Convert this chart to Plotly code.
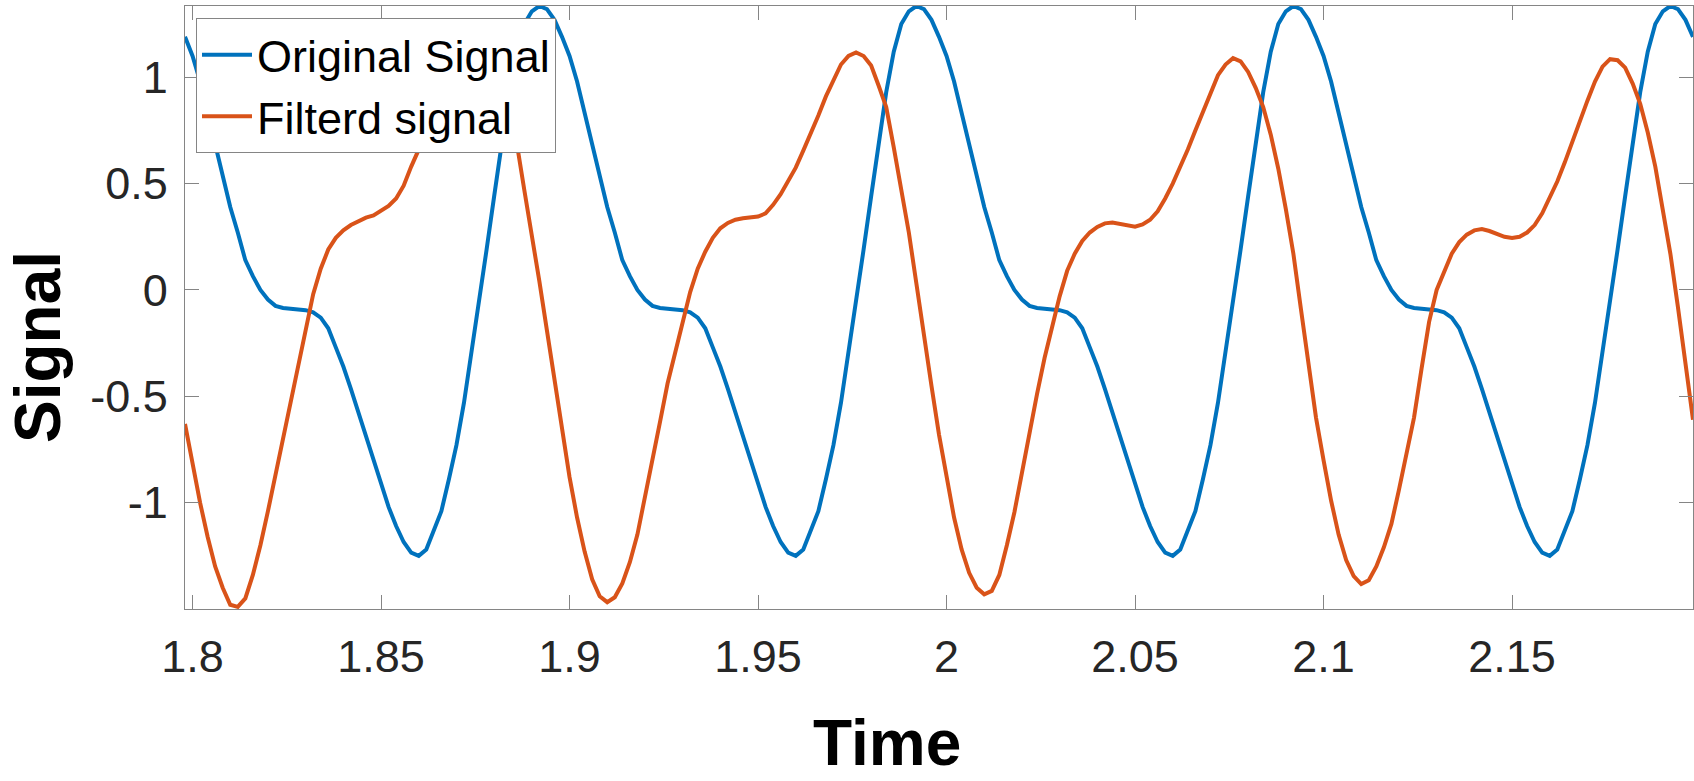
import plotly.graph_objects as go

# ---- data ----
time = [round(1.798 + 0.002 * i, 3) for i in range(201)]

original_signal = [
    1.19, 1.10, 0.98, 0.83, 0.68, 0.53, 0.39, 0.27, 0.14, 0.065,
    0.0, -0.045, -0.075, -0.085, -0.09, -0.092, -0.095, -0.105, -0.13, -0.18,
    -0.27, -0.36, -0.465, -0.575, -0.69, -0.81, -0.92, -1.02, -1.11, -1.185,
    -1.235, -1.25, -1.22, -1.13, -1.04, -0.89, -0.73, -0.53, -0.30, -0.06,
    0.19, 0.44, 0.70, 0.93, 1.12, 1.25, 1.31, 1.335, 1.32, 1.27,
    1.19, 1.10, 0.98, 0.83, 0.68, 0.53, 0.39, 0.27, 0.14, 0.065,
    0.0, -0.045, -0.075, -0.085, -0.09, -0.092, -0.095, -0.105, -0.13, -0.18,
    -0.27, -0.36, -0.465, -0.575, -0.69, -0.81, -0.92, -1.02, -1.11, -1.185,
    -1.235, -1.25, -1.22, -1.13, -1.04, -0.89, -0.73, -0.53, -0.30, -0.06,
    0.19, 0.44, 0.70, 0.93, 1.12, 1.25, 1.31, 1.335, 1.32, 1.27,
    1.19, 1.10, 0.98, 0.83, 0.68, 0.53, 0.39, 0.27, 0.14, 0.065,
    0.0, -0.045, -0.075, -0.085, -0.09, -0.092, -0.095, -0.105, -0.13, -0.18,
    -0.27, -0.36, -0.465, -0.575, -0.69, -0.81, -0.92, -1.02, -1.11, -1.185,
    -1.235, -1.25, -1.22, -1.13, -1.04, -0.89, -0.73, -0.53, -0.30, -0.06,
    0.19, 0.44, 0.70, 0.93, 1.12, 1.25, 1.31, 1.335, 1.32, 1.27,
    1.19, 1.10, 0.98, 0.83, 0.68, 0.53, 0.39, 0.27, 0.14, 0.065,
    0.0, -0.045, -0.075, -0.085, -0.09, -0.092, -0.095, -0.105, -0.13, -0.18,
    -0.27, -0.36, -0.465, -0.575, -0.69, -0.81, -0.92, -1.02, -1.11, -1.185,
    -1.235, -1.25, -1.22, -1.13, -1.04, -0.89, -0.73, -0.53, -0.30, -0.06,
    0.19, 0.44, 0.70, 0.93, 1.12, 1.25, 1.31, 1.335, 1.32, 1.27,
    1.19,
]

filtered_signal = [
    -0.63, -0.82, -1.00, -1.16, -1.30, -1.40, -1.48, -1.49, -1.45, -1.34,
    -1.20, -1.04, -0.87, -0.70, -0.52, -0.35, -0.18, -0.02, 0.10, 0.19,
    0.245, 0.28, 0.305, 0.325, 0.34, 0.35, 0.37, 0.395, 0.43, 0.49,
    0.58, 0.66, 0.715, 0.79, 0.88, 0.97, 1.05, 1.10, 1.13, 1.135,
    1.12, 1.07, 0.98, 0.86, 0.69, 0.47, 0.26, 0.04, -0.19, -0.42,
    -0.65, -0.88, -1.07, -1.23, -1.36, -1.44, -1.468, -1.445, -1.38, -1.28,
    -1.15, -0.98, -0.80, -0.62, -0.44, -0.29, -0.14, -0.01, 0.10, 0.18,
    0.245, 0.29, 0.315, 0.33, 0.337, 0.34, 0.345, 0.36, 0.40, 0.45,
    0.51, 0.575, 0.655, 0.735, 0.82, 0.91, 0.99, 1.06, 1.10, 1.117,
    1.10, 1.055, 0.96, 0.86, 0.67, 0.47, 0.27, 0.03, -0.22, -0.45,
    -0.68, -0.88, -1.07, -1.22, -1.33, -1.40, -1.431, -1.415, -1.34, -1.20,
    -1.045, -0.86, -0.67, -0.49, -0.32, -0.17, -0.03, 0.09, 0.17, 0.23,
    0.27, 0.296, 0.313, 0.317, 0.31, 0.30, 0.297, 0.308, 0.33, 0.37,
    0.43, 0.50, 0.575, 0.66, 0.75, 0.84, 0.93, 1.01, 1.06, 1.09,
    1.075, 1.025, 0.95, 0.86, 0.73, 0.57, 0.38, 0.17, -0.09, -0.34,
    -0.60, -0.80, -0.99, -1.15, -1.27, -1.345, -1.383, -1.365, -1.30, -1.21,
    -1.10, -0.94, -0.78, -0.60, -0.37, -0.15, 0.00, 0.09, 0.17, 0.225,
    0.26, 0.28, 0.286, 0.277, 0.263, 0.25, 0.244, 0.25, 0.27, 0.305,
    0.36, 0.43, 0.51, 0.60, 0.70, 0.80, 0.89, 0.98, 1.05, 1.085,
    1.08, 1.045, 0.97, 0.875, 0.74, 0.58, 0.38, 0.17, -0.08, -0.34,
    -0.61,
]

x_tick_values = [1.8, 1.85, 1.9, 1.95, 2.0, 2.05, 2.1, 2.15]
x_tick_labels = ["1.8", "1.85", "1.9", "1.95", "2", "2.05", "2.1", "2.15"]
y_tick_values = [-1, -0.5, 0, 0.5, 1]
y_tick_labels = ["-1", "-0.5", "0", "0.5", "1"]

series_names = ["Original Signal", "Filterd signal"]
series_colors = ["#0072BD", "#D95319"]

# ---- figure ----
W, H = 1694, 781
ML, MR, MT, MB = 185, 1, 6, 172
axis_color = "#858585"
font_family = "Liberation Sans, Arial, sans-serif"

fig = go.Figure()
fig.add_trace(go.Scatter(x=time, y=original_signal, mode="lines",
                         name=series_names[0],
                         line=dict(color=series_colors[0], width=4)))
fig.add_trace(go.Scatter(x=time, y=filtered_signal, mode="lines",
                         name=series_names[1],
                         line=dict(color=series_colors[1], width=4)))

axis_common = dict(
    showgrid=False, zeroline=False, showline=True, linecolor=axis_color,
    linewidth=1.3, mirror="ticks", ticks="inside", ticklen=14,
    tickcolor=axis_color, tickwidth=1.3,
    tickfont=dict(family=font_family, size=45, color="#262626"),
)
fig.update_xaxes(range=[1.798, 2.198], tickmode="array",
                 tickvals=x_tick_values, ticktext=x_tick_labels,
                 ticklabelstandoff=8, **axis_common)
fig.update_yaxes(range=[-1.5, 1.335], tickmode="array",
                 tickvals=y_tick_values, ticktext=y_tick_labels,
                 ticklabelstandoff=7, **axis_common)

plot_w = W - ML - MR
plot_h = H - MT - MB


def px_to_paper_x(px):
    return (px - ML) / plot_w


def px_to_paper_y(py):
    return (H - MB - py) / plot_h


fig.add_annotation(text="<b>Time</b>", xref="paper", yref="paper",
                   x=px_to_paper_x(887), y=px_to_paper_y(780),
                   xanchor="center", yanchor="bottom", showarrow=False,
                   borderpad=0,
                   font=dict(family=font_family, size=64, color="black"))
fig.add_annotation(text="<b>Signal</b>", xref="paper", yref="paper",
                   x=px_to_paper_x(38), y=px_to_paper_y(347),
                   xanchor="center", yanchor="middle", showarrow=False,
                   textangle=-90, borderpad=0,
                   font=dict(family=font_family, size=64, color="black"))

fig.update_layout(
    width=W, height=H, autosize=False,
    margin=dict(l=ML, r=MR, t=MT, b=MB, pad=0),
    paper_bgcolor="white", plot_bgcolor="white",
    font=dict(family=font_family, color="black"),
    showlegend=True,
    legend=dict(x=px_to_paper_x(196), y=px_to_paper_y(18),
                xanchor="left", yanchor="top",
                bgcolor="white", bordercolor=axis_color, borderwidth=1,
                font=dict(family=font_family, size=45, color="black"),
                itemwidth=50, tracegroupgap=0),
)

fig.write_html("out.html", config={"displayModeBar": False},
               post_script="document.body.style.margin='0';document.body.style.overflow='hidden';")
